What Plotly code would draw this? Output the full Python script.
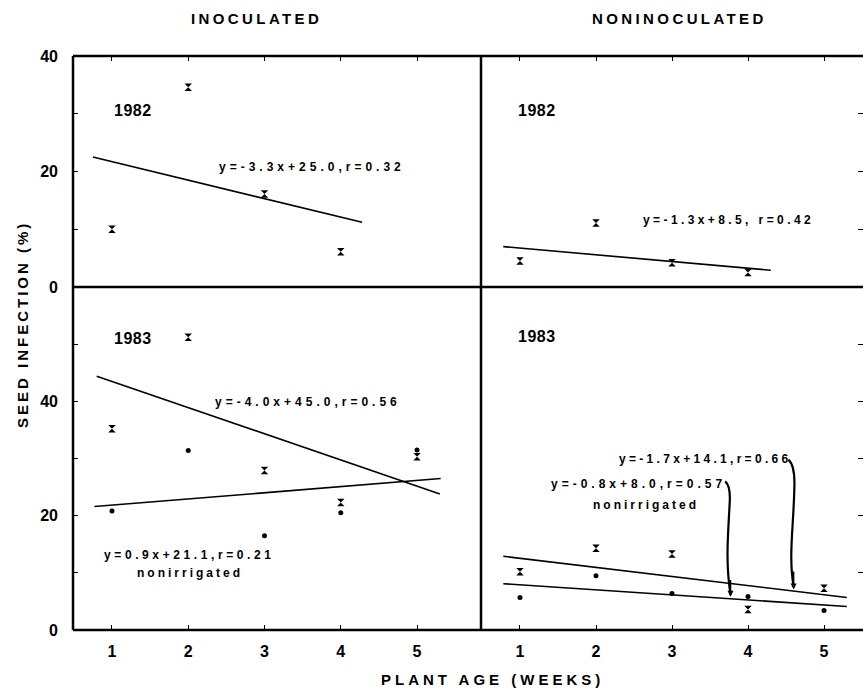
import plotly.graph_objects as go

# ---------------- data ----------------
weeks_82 = [1, 2, 3, 4]
weeks_83 = [1, 2, 3, 4, 5]

inoc_1982 = [10.0, 34.6, 16.1, 6.1]
noninoc_1982 = [4.5, 11.1, 4.2, 2.5]

inoc_1983_x = [35.2, 51.2, 27.9, 22.3, 30.3]
inoc_1983_dot = [20.8, 31.4, 16.5, 20.5, 31.5]

noninoc_1983_x = [10.2, 14.3, 13.3, 3.6, 7.3]
noninoc_1983_dot = [5.7, 9.5, 6.4, 5.85, 3.4]

# fitted regression lines (end points as drawn)
fit_inoc_82_x, fit_inoc_82_y = [0.75, 4.28], [22.5, 11.2]
fit_non_82_x, fit_non_82_y = [0.78, 4.30], [7.0, 2.9]
fit_inoc_83a_x, fit_inoc_83a_y = [0.80, 5.30], [44.4, 23.8]
fit_inoc_83b_x, fit_inoc_83b_y = [0.77, 5.31], [21.6, 26.5]
fit_non_83a_x, fit_non_83a_y = [0.78, 5.30], [12.9, 5.7]
fit_non_83b_x, fit_non_83b_y = [0.78, 5.30], [8.1, 4.1]

x_ticks = [1, 2, 3, 4, 5]
x_ticktext = ["1", "2", "3", "4", "5"]

FONT = "Liberation Sans, Arial, sans-serif"

fig = go.Figure()

def xmarks(x, y, xa, ya):
    fig.add_trace(go.Scatter(x=x, y=y, mode="markers", xaxis=xa, yaxis=ya,
                             marker=dict(symbol="hourglass", size=7.5, color="black"),
                             showlegend=False, hoverinfo="skip"))

def dots(x, y, xa, ya):
    fig.add_trace(go.Scatter(x=x, y=y, mode="markers", xaxis=xa, yaxis=ya,
                             marker=dict(symbol="circle", size=5, color="black"),
                             showlegend=False, hoverinfo="skip"))

def line(x, y, xa, ya):
    fig.add_trace(go.Scatter(x=x, y=y, mode="lines", xaxis=xa, yaxis=ya,
                             line=dict(color="black", width=1.6),
                             showlegend=False, hoverinfo="skip"))

# top-left: inoculated 1982
xmarks(weeks_82, inoc_1982, "x", "y")
line(fit_inoc_82_x, fit_inoc_82_y, "x", "y")
# top-right: noninoculated 1982
xmarks(weeks_82, noninoc_1982, "x2", "y2")
line(fit_non_82_x, fit_non_82_y, "x2", "y2")
# bottom-left: inoculated 1983
xmarks(weeks_83, inoc_1983_x, "x3", "y3")
dots(weeks_83, inoc_1983_dot, "x3", "y3")
line(fit_inoc_83a_x, fit_inoc_83a_y, "x3", "y3")
line(fit_inoc_83b_x, fit_inoc_83b_y, "x3", "y3")
# bottom-right: noninoculated 1983
xmarks(weeks_83, noninoc_1983_x, "x4", "y4")
dots(weeks_83, noninoc_1983_dot, "x4", "y4")
line(fit_non_83a_x, fit_non_83a_y, "x4", "y4")
line(fit_non_83b_x, fit_non_83b_y, "x4", "y4")

# ---------------- layout ----------------
XL = [73 / 863, 481 / 863]
XR = [481 / 863, 1.0]
YT = [(695 - 287) / 695, (695 - 56) / 695]
YB = [(695 - 630) / 695, (695 - 287) / 695]

tickfont = dict(family=FONT, size=16, color="black", weight="bold")

common_x = dict(tickvals=x_ticks, ticktext=x_ticktext, ticks="inside", ticklen=5,
                tickwidth=1.2, tickcolor="black", showgrid=False, zeroline=False,
                showline=False, tickfont=tickfont, automargin=False)

fig.update_layout(
    template="none",
    width=863, height=695,
    margin=dict(l=0, r=0, t=0, b=0, pad=0, autoexpand=False),
    paper_bgcolor="white", plot_bgcolor="white",
    font=dict(family=FONT, color="black"),
    xaxis=dict(domain=XL, range=[0.489, 5.839], anchor="y", side="top",
               showticklabels=False, **common_x),
    xaxis2=dict(domain=XR, range=[0.487, 5.513], anchor="y2", side="top",
                showticklabels=False, **common_x),
    xaxis3=dict(domain=XL, range=[0.489, 5.839], anchor="y3", side="bottom",
                showticklabels=True, ticklabelstandoff=10, **common_x),
    xaxis4=dict(domain=XR, range=[0.487, 5.513], anchor="y4", side="bottom",
                showticklabels=True, ticklabelstandoff=10, **common_x),
    yaxis=dict(domain=YT, range=[0, 40], anchor="x",
               tickvals=[0, 10, 20, 30, 40], ticktext=["0", "", "20", "", "40"],
               ticks="inside", ticklen=5, tickwidth=1.2, tickcolor="black",
               showgrid=False, zeroline=False, showline=False, automargin=False,
               tickfont=tickfont, ticklabelstandoff=14),
    yaxis2=dict(domain=YT, range=[0, 40], anchor="x2", side="right",
                tickvals=[10, 20, 30], ticks="inside", ticklen=5, tickwidth=1.2,
                tickcolor="black", showticklabels=False, automargin=False,
                showgrid=False, zeroline=False, showline=False),
    yaxis3=dict(domain=YB, range=[0, 60], anchor="x3",
                tickvals=[0, 10, 20, 30, 40, 50, 60],
                ticktext=["0", "", "20", "", "40", "", ""],
                ticks="inside", ticklen=5, tickwidth=1.2, tickcolor="black",
                showgrid=False, zeroline=False, showline=False, automargin=False,
                tickfont=tickfont, ticklabelstandoff=14),
    yaxis4=dict(domain=YB, range=[0, 60], anchor="x4", side="right",
                tickvals=[10, 20, 30, 40, 50], ticks="inside", ticklen=5,
                tickwidth=1.2, tickcolor="black", showticklabels=False, automargin=False,
                showgrid=False, zeroline=False, showline=False),
)

# frame lines
frame = [
    (XL[0], YT[1], 1.0, YT[1]),      # top
    (XL[0], YB[0], 1.0, YB[0]),      # bottom
    (XL[0], YB[0], XL[0], YT[1]),    # left
    (XL[1], YB[0], XL[1], YT[1]),    # middle vertical
    (XL[0], YT[0], 1.0, YT[0]),      # middle horizontal
]
for x0, y0, x1, y1 in frame:
    fig.add_shape(type="line", xref="paper", yref="paper", x0=x0, y0=y0, x1=x1, y1=y1,
                  line=dict(color="black", width=2.5))

# curved leader lines (bottom-right panel)
fig.add_shape(type="path", xref="x4", yref="y4",
              path="M 3.70,26.0 Q 3.77,25.2 3.76,22.5 C 3.74,17 3.70,12 3.77,6.2",
              line=dict(color="black", width=2.2))
fig.add_shape(type="path", xref="x4", yref="y4",
              path="M 4.53,29.8 Q 4.62,28.8 4.61,25.0 C 4.60,18 4.53,13 4.60,7.6",
              line=dict(color="black", width=2.2))

ann = []
def txt(x, y, s, xref, yref, size=12, spacing=0, **kw):
    t = s if not spacing else f'<span style="letter-spacing:{spacing}px">{s}</span>'
    ann.append(dict(x=x, y=y, xref=xref, yref=yref, text=t, showarrow=False,
                    xanchor="center", yanchor="middle",
                    font=dict(family=FONT, size=size, color="black", weight="bold"), **kw))

# headers
txt(256 / 863, (695 - 18) / 695, "INOCULATED", "paper", "paper", size=15, spacing=3.4)
txt(679 / 863, (695 - 18) / 695, "NONINOCULATED", "paper", "paper", size=15, spacing=3.4)
txt(492 / 863, (695 - 679) / 695, "PLANT AGE (WEEKS)", "paper", "paper", size=15, spacing=4)
txt(22 / 863, (695 - 325) / 695, "SEED INFECTION (%)", "paper", "paper", size=15,
    spacing=3, textangle=-90)

# panel years
txt(1.28, 30.6, "1982", "x", "y", size=16, spacing=0.5)
txt(1.22, 30.6, "1982", "x2", "y2", size=16, spacing=0.5)
txt(1.27, 51.0, "1983", "x3", "y3", size=16, spacing=0.5)
txt(1.22, 51.3, "1983", "x4", "y4", size=16, spacing=0.5)

# equations
txt(3.62, 20.8, "y=-3.3x+25.0,r=0.32", "x", "y", spacing=4)
txt(3.74, 11.6, "y=-1.3x+8.5, r=0.42", "x2", "y2", spacing=3.4)
txt(3.57, 39.9, "y=-4.0x+45.0,r=0.56", "x3", "y3", spacing=4)
txt(2.02, 13.2, "y=0.9x+21.1,r=0.21", "x3", "y3", spacing=3.6)
txt(2.02, 9.9, "nonirrigated", "x3", "y3", spacing=3)
txt(3.43, 30.0, "y=-1.7x+14.1,r=0.66", "x4", "y4", spacing=3.3)
txt(2.56, 25.6, "y=-0.8x+8.0,r=0.57", "x4", "y4", spacing=4)
txt(2.66, 21.8, "nonirrigated", "x4", "y4", spacing=3)

# small arrowheads at leader ends
for (xe, ye, yt) in [(3.77, 5.8, 9.0), (4.60, 7.1, 10.5)]:
    ann.append(dict(x=xe, y=ye, ax=xe, ay=yt, xref="x4", yref="y4", axref="x4", ayref="y4",
                    text="", showarrow=True, arrowhead=2, arrowsize=0.8, arrowwidth=1.5,
                    arrowcolor="black"))

fig.update_layout(annotations=ann)

fig.write_html("out.html")
